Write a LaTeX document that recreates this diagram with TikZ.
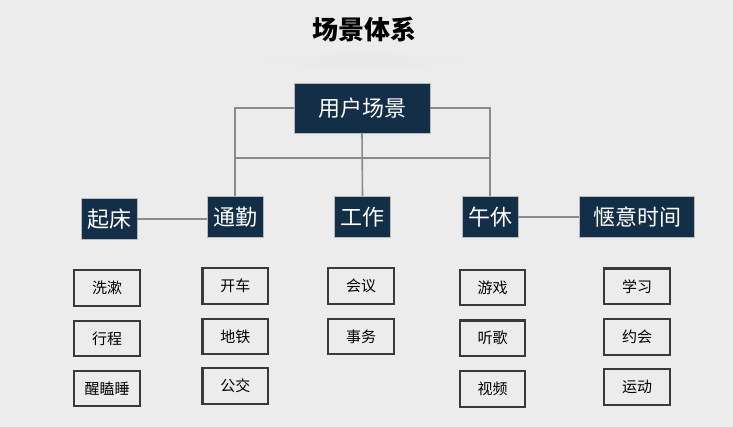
\documentclass[tikz,border=0pt]{standalone}
\usepackage{fontspec}
\setmainfont{Noto Sans CJK SC}
\definecolor{bgcol}{HTML}{ECECEC}
\definecolor{navy}{RGB}{19,46,71}
\definecolor{linkcol}{HTML}{8A8A8A}
\definecolor{leafline}{HTML}{3A3A3A}

\begin{document}
\begin{tikzpicture}[x=1pt,y=-1pt,
	topbox/.style={draw=gray!55,fill=navy,text=white,line width=0.8pt,
		font=\fontsize{22}{24}\selectfont,minimum height=41pt,inner xsep=6pt},
	leaf/.style={draw=leafline,fill=bgcol,line width=2.4pt,minimum width=65.5pt,
		minimum height=35.5pt,font=\fontsize{15}{17}\selectfont},
	link/.style={draw=linkcol,line width=1.6pt}]
	\fill[bgcol] (0,0) rectangle (733,427);
	\useasboundingbox (0,0) rectangle (733,427);
	% title and its soft shadow
	\shade[inner color=black!9, outer color=bgcol] (363,61) ellipse (120 and 12);
	\node[font=\fontsize{26}{28}\selectfont\bfseries] (title) at (364,30) {场景体系};
	% root and the five scenes
	\node[topbox,minimum width=136pt,minimum height=50pt] (ur) at (362,108) {用户场景};
	\node[topbox] (qc) at (109,219) {起床};
	\node[topbox] (tq) at (235,217) {通勤};
	\node[topbox] (gz) at (362.5,217) {工作};
	\node[topbox] (wx) at (490,217) {午休};
	\node[topbox,minimum width=115pt] (qy) at (637,217) {惬意时间};
	\coordinate (hl) at (235,158);
	\coordinate (hr) at (490,158);
	\draw[link] (ur.west) -| (tq.north);
	\draw[link] (ur.east) -| (wx.north);
	\draw[link] (ur.south) -- (gz.north);
	\draw[link] (hl) -- (hr);
	\draw[link] (qc.east) -- (tq.west |- qc.east);
	\draw[link] (wx.east) -- (qy.west);
	% leaves
	\foreach \nm/\x/\y/\lab in {xs/107/288/洗漱, xc/107/338.5/行程, xk/107/388.5/醒瞌睡,
		kc/235.3/286/开车, dt/235.3/336.5/地铁, gj/235.3/386/公交,
		hy/361/286/会议, sw/361/336.5/事务,
		yx/492.5/287.5/游戏, tg/492.5/338.3/听歌, sp/492.5/389/视频,
		xx/637/286.3/学习, yh/637/337/约会, yd/637/387/运动} {
		\node[leaf] (\nm) at (\x,\y) {\lab};
	}
\end{tikzpicture}
\end{document}
